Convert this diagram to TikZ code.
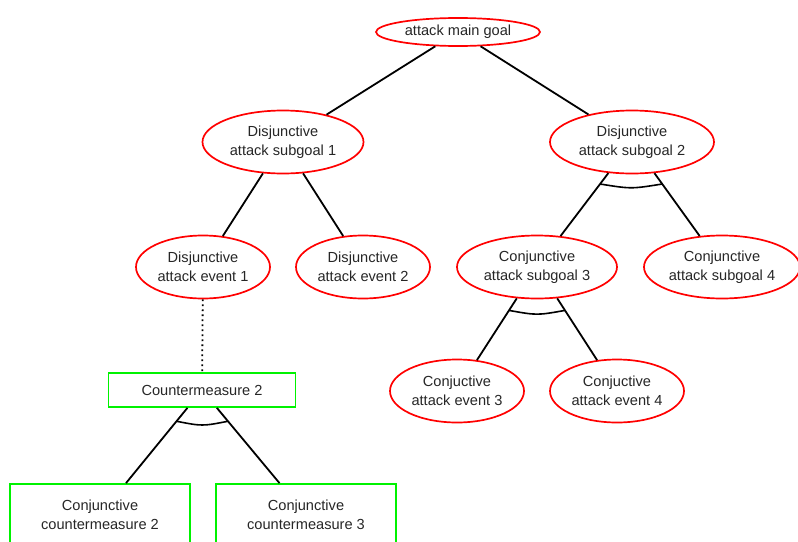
\documentclass[tikz,border=0pt]{standalone}
\usepackage{fontspec}
\setmainfont{Liberation Sans}
\usetikzlibrary{shapes.geometric,calc}

\begin{document}
\begin{tikzpicture}[x=1pt,y=-1pt]
			\tikzset{
				goal/.style={ellipse,draw=red,line width=1.7pt,inner sep=0pt,minimum width=#1,minimum height=63pt,align=center,text=black!85,font=\fontsize{14.6}{19}\selectfont},
				measure/.style={rectangle,draw=green!95!black,line width=1.7pt,inner sep=0pt,align=center,text=black!85,font=\fontsize{14.6}{19}\selectfont},
				link/.style={line width=1.8pt},
				andarc/.style={line width=1.6pt}
			}
			\useasboundingbox (0,0) rectangle (798,541);

			% attack tree
			\node[goal=164,minimum height=28pt] (main) at (458,32) {attack main goal};
			\node[goal=161] (dsub1) at (283,142) {Disjunctive\\attack subgoal 1};
			\node[goal=164] (dsub2) at (632,142) {Disjunctive\\attack subgoal 2};
			\node[goal=134] (devt1) at (203,267) {Disjunctive\\attack event 1};
			\node[goal=134] (devt2) at (363,267) {Disjunctive\\attack event 2};
			\node[goal=160] (csub3) at (537,267) {Conjunctive\\attack subgoal 3};
			\node[goal=156] (csub4) at (722,267) {Conjunctive\\attack subgoal 4};
			\node[goal=134] (cevt3) at (457,391) {Conjuctive\\attack event 3};
			\node[goal=134] (cevt4) at (617,391) {Conjuctive\\attack event 4};

			% countermeasures
			\node[measure,minimum width=187pt,minimum height=34pt] (cm2) at (202,390) {Countermeasure 2};
			\node[measure,minimum width=180pt,minimum height=62pt] (ccm2) at (100,515) {Conjunctive\\countermeasure 2};
			\node[measure,minimum width=180pt,minimum height=62pt] (ccm3) at (306,515) {Conjunctive\\countermeasure 3};

			\foreach \a/\b in {main/dsub1,main/dsub2,dsub1/devt1,dsub1/devt2,dsub2/csub3,dsub2/csub4,csub3/cevt3,csub3/cevt4,cm2/ccm2,cm2/ccm3}
				\draw[link] (\a) -- (\b);
			\draw[link,dash pattern=on 1.8pt off 3.2pt] (devt1) -- (cm2);

			% conjunction arcs
			\foreach \p/\l/\r/\f in {dsub2/csub3/csub4/0.336,csub3/cevt3/cevt4/0.35,cm2/ccm2/ccm3/0.25}{
				\coordinate (L) at ($(\p)!\f!(\l)$);
				\coordinate (R) at ($(\p)!\f!(\r)$);
				\draw[andarc] (L) .. controls ($(L)!0.5!(R)+(0,5)$) .. (R);
			}
		\end{tikzpicture}
\end{document}
